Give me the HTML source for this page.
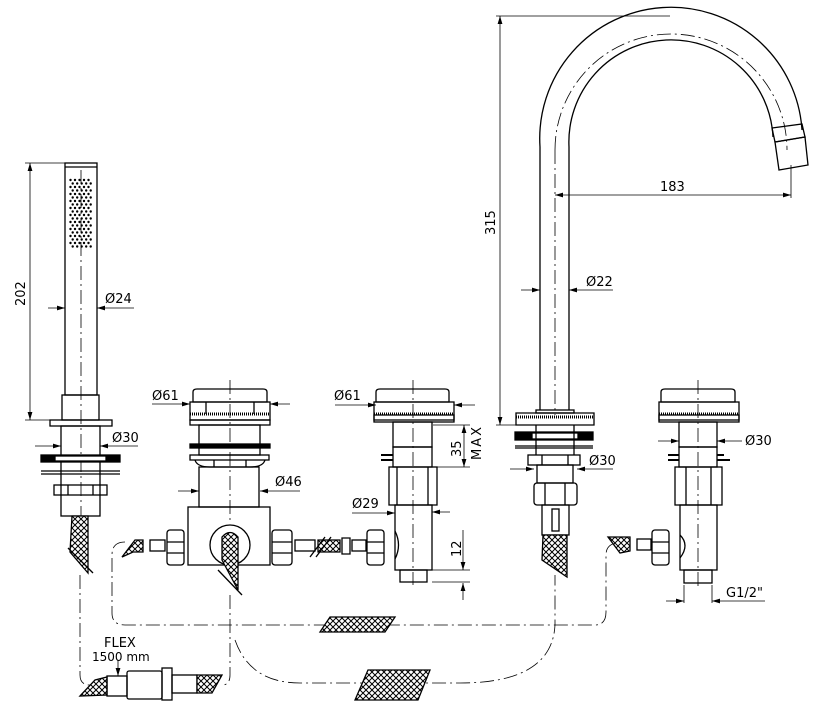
<!DOCTYPE html>
<html><head><style>
html,body{margin:0;padding:0;background:#fff;}
svg{display:block;}
text{font-family:"DejaVu Sans","Liberation Sans",sans-serif;font-size:13px;fill:#000;}
</style></head><body>
<svg width="816" height="725" viewBox="0 0 816 725" xmlns="http://www.w3.org/2000/svg">
<defs>
<pattern id="h" width="6" height="6" patternUnits="userSpaceOnUse">
<rect width="6" height="6" fill="#fff"/>
<path d="M0,0L6,6M6,0L0,6" stroke="#000" stroke-width="1"/>
</pattern>
<marker id="a" viewBox="0 0 10 6" refX="10" refY="3" markerWidth="10" markerHeight="6" orient="auto-start-reverse"><path d="M0,0L10,3L0,6z" fill="#000"/></marker>
</defs>
<g fill="none" stroke="#000" stroke-width="1.3">
<!-- centerlines -->
<g stroke-width="0.8" stroke-dasharray="14,4,2,4">
<line x1="81" y1="170" x2="81" y2="520"/>
<line x1="230" y1="380" x2="230" y2="520"/>
<line x1="413" y1="380" x2="413" y2="585"/>
<line x1="698" y1="380" x2="698" y2="590"/>
<line x1="555" y1="150" x2="555" y2="415"/>
<path d="M555,150 A116,116 0 0 1 787,150"/>
<path d="M125,542 Q112,542 112,555 L112,613 Q112,625 125,625 L595,625 Q606,625 606,612 L606,555 Q606,545 616,543"/>
<path d="M80,575 L80,675 Q80,685 90,685"/>
<path d="M230,595 L230,675 Q230,685 222,685"/>
<path d="M235,640 Q250,683 300,683 L460,683 Q552,683 555,625 L555,575"/>
</g>
<!-- hand shower -->
<rect x="65" y="163" width="32" height="232"/>
<line x1="65" y1="167" x2="97" y2="167"/>
<g fill="#000" stroke="none">
<g id="dots">
<circle cx="70.5" cy="180" r="1.2"/><circle cx="75" cy="180" r="1.2"/><circle cx="79.5" cy="180" r="1.2"/><circle cx="84" cy="180" r="1.2"/><circle cx="88.5" cy="180" r="1.2"/>
<circle cx="72.7" cy="183.5" r="1.2"/><circle cx="77.2" cy="183.5" r="1.2"/><circle cx="81.7" cy="183.5" r="1.2"/><circle cx="86.2" cy="183.5" r="1.2"/><circle cx="90.7" cy="183.5" r="1.2"/>
</g>
<use href="#dots" y="7"/><use href="#dots" y="14"/><use href="#dots" y="21"/><use href="#dots" y="28"/><use href="#dots" y="35"/><use href="#dots" y="42"/><use href="#dots" y="49"/><use href="#dots" y="56"/><use href="#dots" y="63"/>
</g>
<rect x="62" y="395" width="37" height="25"/>
<rect x="50" y="420" width="62" height="6"/>
<rect x="61" y="426" width="39" height="90"/>
<rect x="41" y="455" width="79" height="7" fill="#000"/>
<rect x="55" y="456" width="51" height="5" fill="#fff"/>
<line x1="41" y1="471" x2="120" y2="471"/><line x1="41" y1="474" x2="120" y2="474"/>
<rect x="54" y="485" width="53" height="10"/>
<line x1="68" y1="485" x2="68" y2="495"/><line x1="93" y1="485" x2="93" y2="495"/>
<path d="M72,516 L88,516 L88,573 L70,552 Z" fill="url(#h)"/>
<line x1="68" y1="548" x2="93" y2="573"/>
<!-- dims hand shower -->
<line x1="25" y1="163" x2="65" y2="163" stroke-width="0.8"/>
<line x1="25" y1="420" x2="50" y2="420" stroke-width="0.8"/>
<line x1="30" y1="163" x2="30" y2="420" stroke-width="0.8" marker-start="url(#a)" marker-end="url(#a)"/>
<line x1="48" y1="308" x2="65" y2="308" stroke-width="0.8" marker-end="url(#a)"/>
<line x1="134" y1="308" x2="97" y2="308" stroke-width="0.8" marker-end="url(#a)"/>
<line x1="35" y1="446" x2="61" y2="446" stroke-width="0.8" marker-end="url(#a)"/>
<line x1="138" y1="446" x2="100" y2="446" stroke-width="0.8" marker-end="url(#a)"/>
<!-- diverter -->
<path d="M193,402 L193,392 Q193,389 197,389 L263,389 Q267,389 267,392 L267,402 Z"/>
<rect x="190" y="402" width="80" height="18"/>
<line x1="190" y1="414" x2="270" y2="414" stroke-width="3" stroke-dasharray="1,1"/>
<rect x="190" y="420" width="80" height="5"/>
<line x1="206" y1="402" x2="206" y2="414"/><line x1="254" y1="402" x2="254" y2="414"/>
<rect x="199" y="425" width="61" height="30"/>
<rect x="190" y="444" width="80" height="4" fill="#000"/>
<rect x="190" y="455" width="79" height="5"/>
<path d="M195,460 Q197,467 210,467 L250,467 Q263,467 265,460"/>
<line x1="214" y1="460" x2="214" y2="467"/><line x1="246" y1="460" x2="246" y2="467"/>
<rect x="199" y="467" width="60" height="40"/>
<rect x="188" y="507" width="82" height="58"/>
<circle cx="230" cy="545" r="20"/>
<path d="M222,560 L222,537 Q230,528 238,537 L238,590 Z" fill="url(#h)"/>
<line x1="218" y1="570" x2="242" y2="595"/>
<rect x="167" y="530" width="17" height="35" rx="3"/>
<line x1="167" y1="542" x2="184" y2="542"/><line x1="167" y1="553" x2="184" y2="553"/>
<rect x="272" y="530" width="20" height="35" rx="3"/>
<line x1="272" y1="542" x2="292" y2="542"/><line x1="272" y1="553" x2="292" y2="553"/>
<rect x="150" y="540" width="15" height="11"/>
<rect x="295" y="540" width="20" height="11"/>
<path d="M122,557 L135,540 L143,540 L143,552 L133,552 Z" fill="url(#h)"/>
<path d="M318,540 L340,540 L340,552 L318,552 Z" fill="url(#h)"/>
<line x1="310" y1="557" x2="325" y2="537"/><line x1="316" y1="557" x2="331" y2="537"/>
<path d="M342,538 L350,538 L350,554 L342,554 Z"/>
<rect x="352" y="540" width="14" height="11"/>
<!-- diverter dims -->
<line x1="152" y1="404" x2="190" y2="404" stroke-width="0.8" marker-end="url(#a)"/>
<line x1="290" y1="404" x2="270" y2="404" stroke-width="0.8" marker-end="url(#a)"/>
<line x1="178" y1="491" x2="199" y2="491" stroke-width="0.8" marker-end="url(#a)"/>
<line x1="300" y1="491" x2="260" y2="491" stroke-width="0.8" marker-end="url(#a)"/>
<!-- middle valve -->
<path d="M376,402 L376,392 Q376,389 380,389 L445,389 Q449,389 449,392 L449,402 Z"/>
<rect x="374" y="402" width="80" height="18"/>
<line x1="374" y1="414" x2="454" y2="414" stroke-width="3" stroke-dasharray="1,1"/>
<rect x="374" y="415" width="80" height="7"/>
<rect x="393" y="422" width="39" height="25"/>
<rect x="393" y="447" width="39" height="20"/>
<line x1="381" y1="455" x2="393" y2="455" stroke-width="2"/><line x1="381" y1="460" x2="393" y2="460" stroke-width="2"/>
<rect x="389" y="467" width="48" height="38"/>
<line x1="397" y1="467" x2="397" y2="505"/><line x1="428" y1="467" x2="428" y2="505"/>
<rect x="395" y="505" width="37" height="65"/>
<path d="M395,531 Q402,545 395,559"/>
<rect x="400" y="570" width="27" height="12"/>
<rect x="367" y="530" width="17" height="35" rx="3"/>
<line x1="367" y1="542" x2="384" y2="542"/><line x1="367" y1="553" x2="384" y2="553"/>
<!-- mid dims -->
<line x1="335" y1="405" x2="376" y2="405" stroke-width="0.8" marker-end="url(#a)"/>
<line x1="475" y1="405" x2="454" y2="405" stroke-width="0.8" marker-end="url(#a)"/>
<line x1="433" y1="425" x2="470" y2="425" stroke-width="0.8"/>
<line x1="433" y1="467" x2="470" y2="467" stroke-width="0.8"/>
<line x1="464" y1="425" x2="464" y2="467" stroke-width="0.8" marker-start="url(#a)" marker-end="url(#a)"/>
<line x1="352" y1="513" x2="395" y2="513" stroke-width="0.8" marker-end="url(#a)"/>
<line x1="432" y1="512" x2="450" y2="512" stroke-width="0.8" marker-start="url(#a)"/>
<line x1="432" y1="570" x2="470" y2="570" stroke-width="0.8"/>
<line x1="463" y1="530" x2="463" y2="570" stroke-width="0.8" marker-end="url(#a)"/>
<line x1="463" y1="600" x2="463" y2="583" stroke-width="0.8" marker-end="url(#a)"/>
<line x1="432" y1="582" x2="470" y2="582" stroke-width="0.8"/>
<!-- spout -->
<path d="M540,410 L540,147 A131,131 0 0 1 802,130"/>
<path d="M569,410 L569,147 A102,102 0 0 1 773,137"/>
<path d="M772,128 L802,124 L805,137 L775,142 Z"/>
<path d="M775,142 L805,137 L808,165 L779,170 Z"/>
<path d="M516,425 L516,413 L594,413 L594,425 Z"/>
<line x1="516" y1="417" x2="594" y2="417" stroke-width="3" stroke-dasharray="1,1"/>
<rect x="536" y="410" width="38" height="3"/>
<rect x="515" y="432" width="78" height="8" fill="#000"/>
<rect x="532" y="433" width="46" height="6" fill="#fff"/>
<line x1="515" y1="446" x2="593" y2="446"/><line x1="515" y1="448" x2="593" y2="448"/>
<line x1="536" y1="425" x2="536" y2="455"/><line x1="574" y1="425" x2="574" y2="455"/>
<rect x="528" y="455" width="52" height="10"/>
<line x1="542" y1="455" x2="542" y2="465"/><line x1="568" y1="455" x2="568" y2="465"/>
<rect x="537" y="465" width="36" height="18"/>
<rect x="534" y="483" width="43" height="22" rx="3"/>
<line x1="545" y1="483" x2="545" y2="505"/><line x1="565" y1="483" x2="565" y2="505"/>
<rect x="542" y="505" width="27" height="30"/>
<rect x="552" y="509" width="7" height="22"/>
<path d="M543,535 L567,535 L567,577 L542,560 Z" fill="url(#h)"/>
<!-- spout dims -->
<line x1="496" y1="16" x2="670" y2="16" stroke-width="0.8"/>
<line x1="496" y1="425" x2="516" y2="425" stroke-width="0.8"/>
<line x1="500" y1="16" x2="500" y2="425" stroke-width="0.8" marker-start="url(#a)" marker-end="url(#a)"/>
<line x1="555" y1="195" x2="791" y2="195" stroke-width="0.8" marker-start="url(#a)" marker-end="url(#a)"/>
<line x1="791" y1="165" x2="791" y2="198" stroke-width="0.8"/>
<line x1="521" y1="290" x2="540" y2="290" stroke-width="0.8" marker-end="url(#a)"/>
<line x1="613" y1="290" x2="569" y2="290" stroke-width="0.8" marker-end="url(#a)"/>
<line x1="510" y1="469" x2="534" y2="469" stroke-width="0.8" marker-end="url(#a)"/>
<line x1="613" y1="469" x2="577" y2="469" stroke-width="0.8" marker-end="url(#a)"/>
<!-- right valve -->
<path d="M661,402 L661,392 Q661,389 665,389 L731,389 Q735,389 735,392 L735,402 Z"/>
<rect x="659" y="402" width="80" height="18"/>
<line x1="659" y1="414" x2="739" y2="414" stroke-width="3" stroke-dasharray="1,1"/>
<rect x="659" y="415" width="80" height="7"/>
<rect x="679" y="422" width="38" height="25"/>
<rect x="679" y="447" width="38" height="20"/>
<line x1="668" y1="455" x2="679" y2="455" stroke-width="2"/><line x1="668" y1="460" x2="679" y2="460" stroke-width="2"/>
<line x1="717" y1="455" x2="724" y2="455" stroke-width="2"/><line x1="717" y1="460" x2="730" y2="460" stroke-width="2"/>
<rect x="675" y="467" width="47" height="38"/>
<line x1="686" y1="467" x2="686" y2="505"/><line x1="711" y1="467" x2="711" y2="505"/>
<rect x="680" y="505" width="37" height="65"/>
<path d="M680,535 Q690,545 680,558"/>
<rect x="684" y="570" width="28" height="13"/>
<rect x="652" y="530" width="17" height="35" rx="3"/>
<line x1="652" y1="542" x2="669" y2="542"/><line x1="652" y1="553" x2="669" y2="553"/>
<rect x="637" y="539" width="14" height="11"/>
<path d="M608,537 L630,537 L630,551 L620,553 Z" fill="url(#h)"/>
<!-- right dims -->
<line x1="658" y1="441" x2="679" y2="441" stroke-width="0.8" marker-end="url(#a)"/>
<line x1="742" y1="441" x2="717" y2="441" stroke-width="0.8" marker-end="url(#a)"/>
<line x1="684" y1="585" x2="684" y2="603" stroke-width="0.8"/>
<line x1="712" y1="585" x2="712" y2="603" stroke-width="0.8"/>
<line x1="666" y1="601" x2="684" y2="601" stroke-width="0.8" marker-end="url(#a)"/>
<line x1="765" y1="601" x2="712" y2="601" stroke-width="0.8" marker-end="url(#a)"/>
<!-- loose hoses -->
<path d="M320,632 L330,617 L395,617 L385,632 Z" fill="url(#h)"/>
<path d="M355,700 L368,670 L430,670 L418,700 Z" fill="url(#h)"/>
<!-- flex fitting -->
<path d="M80,696 L95,680 L107,677 L107,695 Z" fill="url(#h)"/>
<rect x="107" y="676" width="20" height="20"/>
<rect x="127" y="671" width="35" height="28" rx="2"/>
<rect x="162" y="668" width="10" height="32"/>
<rect x="172" y="675" width="25" height="18"/>
<path d="M197,675 L222,675 L212,693 L197,693 Z" fill="url(#h)"/>
<line x1="118" y1="660" x2="118" y2="676" stroke-width="0.8" marker-end="url(#a)"/>
</g>
<g>
<text x="0" y="0" transform="translate(25,306) rotate(-90)">202</text>
<text x="105" y="303">Ø24</text>
<text x="112" y="442">Ø30</text>
<text x="152" y="400">Ø61</text>
<text x="275" y="486">Ø46</text>
<text x="334" y="400">Ø61</text>
<text x="352" y="508">Ø29</text>
<text x="0" y="0" transform="translate(461,457) rotate(-90)">35</text>
<text x="0" y="0" transform="translate(481,460) rotate(-90)" letter-spacing="2">MAX</text>
<text x="0" y="0" transform="translate(461,557) rotate(-90)">12</text>
<text x="0" y="0" transform="translate(495,235) rotate(-90)">315</text>
<text x="660" y="191">183</text>
<text x="586" y="286">Ø22</text>
<text x="589" y="465">Ø30</text>
<text x="745" y="445">Ø30</text>
<text x="726" y="597">G1/2"</text>
<text x="104" y="647">FLEX</text>
<text x="92" y="661" style="font-size:12px">1500 mm</text>
</g>
</svg>
</body></html>
